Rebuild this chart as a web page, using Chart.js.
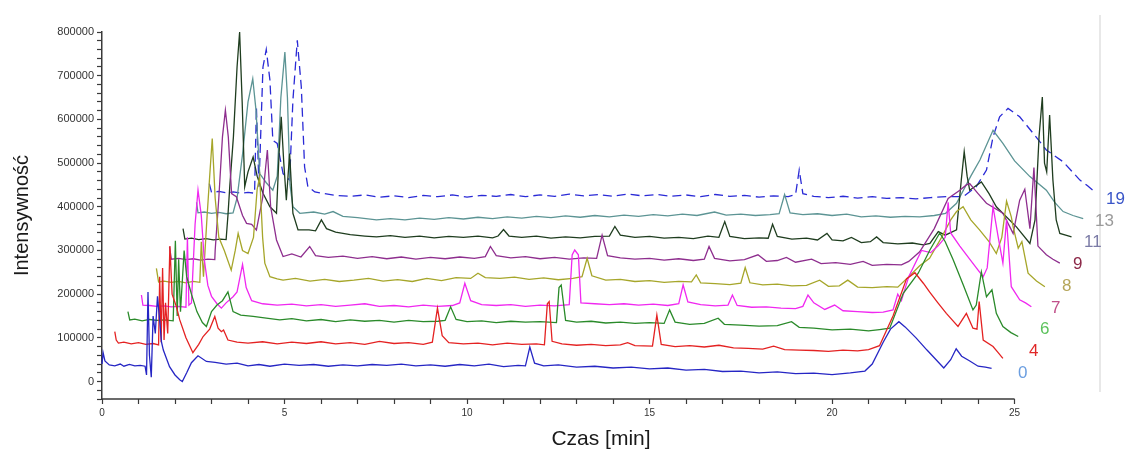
<!DOCTYPE html>
<html lang="pl">
<head>
<meta charset="utf-8">
<title>Chromatogramy</title>
<script src="https://cdn.jsdelivr.net/npm/chart.js@4.4.1/dist/chart.umd.min.js"></script>
<style>
  html, body { margin: 0; padding: 0; background: #fff; }
  #chart { display: block; }
</style>
</head>
<body>
<canvas id="chart" width="1125" height="452"></canvas>
<script>
// Chromatogram waterfall - time [min] vs intensity, one trace per sample

const runNames = ['0', '4', '6', '7', '8', '9', '11', '13', '19'];

const run0 = [
  [0, 40000], [0.03, 66000], [0.08, 47000], [0.2, 38000], [0.35, 36000], [0.5, 40000], [0.6, 35000],
  [0.75, 39000], [0.9, 36000], [1.05, 37000], [1.18, 35000], [1.22, 15000], [1.26, 205000], [1.3, 60000],
  [1.35, 10000], [1.4, 150000], [1.46, 110000], [1.52, 195000], [1.58, 140000], [1.63, 90000], [1.68, 72000],
  [1.85, 34000], [2.0, 15000], [2.13, 4000], [2.2, 0], [2.32, 20000], [2.45, 43000], [2.63, 59000],
  [2.86, 46000], [3.1, 44000], [3.4, 40000], [3.7, 42000], [4.0, 36000], [4.3, 39000], [4.6, 35000],
  [5.0, 40000], [5.4, 37000], [5.8, 39000], [6.2, 35000], [6.6, 38000], [7.0, 36000], [7.4, 39000],
  [7.8, 37000], [8.2, 40000], [8.6, 36000], [9.0, 38000], [9.4, 35000], [9.8, 39000], [10.2, 36000],
  [10.6, 40000], [11.0, 34000], [11.4, 37000], [11.6, 36000], [11.72, 79000], [11.85, 42000], [12.1, 36000],
  [12.5, 38000], [13.0, 33000], [13.5, 35000], [14.0, 31000], [14.5, 33000], [15.0, 29000], [15.5, 31000],
  [16.0, 26000], [16.5, 28000], [17.0, 23000], [17.5, 24000], [18.0, 20000], [18.5, 22000], [19.0, 18000],
  [19.5, 19000], [20.0, 16000], [20.5, 20000], [20.9, 24000], [21.1, 40000], [21.4, 90000], [21.6, 120000],
  [21.83, 137000], [22.0, 125000], [22.3, 100000], [22.6, 72000], [22.85, 50000], [23.06, 31000],
  [23.25, 50000], [23.4, 75000], [23.55, 58000], [23.75, 48000], [24.0, 35000], [24.2, 33000], [24.37, 30000]
];

const run4 = [
  [0.35, 114000], [0.39, 95000], [0.45, 88000], [0.6, 90000], [0.8, 86000], [1.0, 89000], [1.2, 85000],
  [1.4, 87000], [1.55, 84000], [1.58, 240000], [1.62, 90000], [1.66, 260000], [1.7, 95000], [1.74, 180000],
  [1.8, 110000], [1.86, 310000], [1.92, 200000], [2.04, 171000], [2.13, 141000], [2.3, 100000], [2.49, 66000],
  [2.65, 85000], [2.77, 103000], [2.95, 120000], [3.09, 149000], [3.18, 122000], [3.27, 114000], [3.33, 118000],
  [3.45, 95000], [3.7, 90000], [4.0, 88000], [4.4, 91000], [4.8, 86000], [5.2, 90000], [5.6, 87000],
  [6.0, 91000], [6.4, 86000], [6.8, 89000], [7.2, 85000], [7.6, 92000], [8.0, 87000], [8.4, 89000],
  [8.8, 85000], [9.05, 90000], [9.19, 168000], [9.32, 105000], [9.5, 89000], [9.9, 86000], [10.3, 88000],
  [10.7, 84000], [11.1, 88000], [11.5, 85000], [11.9, 86000], [12.12, 84000], [12.2, 178000], [12.25, 183000],
  [12.33, 92000], [12.6, 86000], [13.0, 83000], [13.4, 85000], [13.8, 82000], [14.2, 84000], [14.4, 89000],
  [14.6, 82000], [15.08, 81000], [15.2, 152000], [15.32, 85000], [15.7, 80000], [16.1, 82000], [16.5, 79000],
  [16.9, 83000], [17.3, 77000], [17.7, 76000], [18.1, 74000], [18.4, 81000], [18.7, 73000], [19.1, 72000],
  [19.5, 71000], [19.9, 69000], [20.3, 72000], [20.7, 70000], [21.0, 73000], [21.3, 82000], [21.67, 150000],
  [22.04, 235000], [22.27, 249000], [22.5, 225000], [22.67, 205000], [22.9, 180000], [23.13, 156000],
  [23.45, 126000], [23.68, 156000], [23.86, 122000], [23.97, 120000], [24.03, 183000], [24.14, 95000],
  [24.41, 80000], [24.55, 66000], [24.68, 53000]
];

const run6 = [
  [0.71, 160000], [0.76, 141000], [0.9, 143000], [1.1, 139000], [1.3, 142000], [1.5, 140000], [1.7, 141000],
  [1.95, 139000], [2.01, 322000], [2.06, 150000], [2.1, 280000], [2.15, 160000], [2.25, 300000], [2.32, 240000],
  [2.45, 200000], [2.6, 160000], [2.75, 135000], [2.86, 126000], [3.0, 160000], [3.15, 175000], [3.3, 185000],
  [3.45, 205000], [3.59, 160000], [3.8, 152000], [4.14, 149000], [4.5, 145000], [4.87, 141000], [5.2, 144000],
  [5.6, 139000], [6.0, 142000], [6.4, 137000], [6.8, 141000], [7.2, 138000], [7.6, 140000], [8.0, 136000],
  [8.4, 140000], [8.8, 137000], [9.2, 138000], [9.4, 140000], [9.55, 171000], [9.7, 142000], [10.0, 137000],
  [10.4, 139000], [10.8, 135000], [11.2, 138000], [11.6, 136000], [12.0, 137000], [12.45, 135000],
  [12.52, 215000], [12.58, 221000], [12.7, 140000], [13.0, 136000], [13.4, 138000], [13.8, 134000],
  [14.2, 136000], [14.6, 133000], [15.0, 135000], [15.4, 133000], [15.55, 164000], [15.7, 136000],
  [16.1, 131000], [16.5, 133000], [16.88, 145000], [17.05, 131000], [17.5, 129000], [18.0, 127000],
  [18.5, 128000], [18.89, 137000], [19.1, 124000], [19.5, 122000], [20.0, 118000], [20.5, 120000],
  [21.0, 116000], [21.3, 119000], [21.58, 122000], [21.95, 202000], [22.36, 248000], [22.68, 301000],
  [22.95, 340000], [23.1, 320000], [23.32, 278000], [23.6, 220000], [23.86, 164000], [23.95, 175000],
  [24.09, 251000], [24.23, 194000], [24.38, 210000], [24.5, 156000], [24.68, 126000], [24.9, 112000], [25.1, 103000]
];

const run7 = [
  [1.08, 198000], [1.12, 175000], [1.3, 174000], [1.5, 172000], [1.7, 173000], [1.9, 171000], [2.1, 172000],
  [2.3, 170000], [2.34, 330000], [2.38, 175000], [2.45, 180000], [2.55, 360000], [2.63, 438000], [2.72, 380000],
  [2.8, 280000], [2.9, 220000], [3.0, 195000], [3.15, 178000], [3.27, 168000], [3.4, 180000], [3.59, 194000],
  [3.7, 205000], [3.85, 268000], [3.95, 215000], [4.1, 185000], [4.4, 178000], [4.8, 175000], [5.2, 177000],
  [5.6, 173000], [6.0, 176000], [6.4, 172000], [6.8, 175000], [7.2, 178000], [7.6, 172000], [8.0, 174000],
  [8.4, 171000], [8.8, 175000], [9.2, 172000], [9.6, 174000], [9.8, 180000], [9.94, 225000], [10.1, 185000],
  [10.4, 176000], [10.8, 174000], [11.2, 176000], [11.6, 172000], [12.0, 175000], [12.4, 173000],
  [12.8, 176000], [12.88, 290000], [12.95, 301000], [13.05, 290000], [13.12, 180000], [13.5, 178000],
  [13.9, 176000], [14.3, 178000], [14.7, 175000], [15.1, 177000], [15.5, 174000], [15.8, 178000],
  [15.92, 221000], [16.05, 182000], [16.4, 176000], [16.8, 173000], [17.15, 175000], [17.27, 198000],
  [17.4, 174000], [17.8, 170000], [18.2, 171000], [18.6, 168000], [19.0, 167000], [19.2, 172000],
  [19.34, 198000], [19.5, 180000], [19.8, 165000], [20.07, 175000], [20.3, 162000], [20.7, 160000],
  [21.1, 158000], [21.4, 159000], [21.67, 164000], [21.8, 200000], [21.9, 185000], [22.1, 240000],
  [22.45, 300000], [22.7, 295000], [22.9, 310000], [23.1, 330000], [23.18, 410000], [23.25, 340000],
  [23.5, 310000], [23.77, 280000], [24.0, 255000], [24.14, 240000], [24.25, 260000], [24.41, 400000],
  [24.55, 331000], [24.68, 271000], [24.78, 370000], [24.91, 217000], [25.14, 187000], [25.3, 180000], [25.46, 171000]
];

const run8 = [
  [1.49, 259000], [1.55, 228000], [1.7, 230000], [1.9, 227000], [2.1, 229000], [2.3, 226000], [2.5, 229000],
  [2.68, 227000], [2.72, 320000], [2.78, 240000], [2.88, 380000], [2.95, 470000], [3.02, 556000], [3.1, 420000],
  [3.2, 330000], [3.35, 300000], [3.54, 255000], [3.65, 300000], [3.73, 339000], [3.85, 300000], [4.0, 293000],
  [4.15, 330000], [4.25, 440000], [4.32, 469000], [4.4, 330000], [4.46, 271000], [4.6, 240000], [4.8, 235000],
  [4.96, 232000], [5.3, 236000], [5.7, 230000], [6.1, 234000], [6.5, 229000], [6.9, 232000], [7.3, 236000],
  [7.7, 230000], [8.1, 233000], [8.5, 229000], [8.9, 236000], [9.3, 231000], [9.7, 238000], [10.1, 236000],
  [10.3, 248000], [10.5, 238000], [10.9, 236000], [11.3, 239000], [11.7, 234000], [12.1, 237000],
  [12.5, 233000], [12.9, 236000], [13.15, 240000], [13.29, 282000], [13.42, 242000], [13.8, 232000],
  [14.2, 234000], [14.6, 229000], [15.0, 231000], [15.4, 227000], [15.8, 229000], [16.15, 228000],
  [16.28, 244000], [16.4, 226000], [16.8, 224000], [17.2, 222000], [17.5, 225000], [17.62, 261000],
  [17.75, 226000], [18.1, 221000], [18.5, 223000], [18.9, 219000], [19.3, 220000], [19.66, 232000],
  [19.9, 218000], [20.2, 219000], [20.43, 232000], [20.7, 216000], [21.1, 215000], [21.5, 217000],
  [21.8, 216000], [22.1, 240000], [22.4, 265000], [22.67, 282000], [23.0, 330000], [23.25, 370000],
  [23.41, 389000], [23.59, 400000], [23.8, 370000], [24.04, 347000], [24.3, 320000], [24.5, 293000],
  [24.65, 330000], [24.78, 413000], [24.91, 377000], [24.96, 354000], [25.1, 305000], [25.2, 320000],
  [25.37, 248000], [25.6, 230000], [25.83, 217000]
];

const run9 = [
  [1.85, 308000], [1.9, 280000], [2.1, 282000], [2.3, 279000], [2.5, 281000], [2.7, 278000], [2.9, 280000],
  [3.09, 279000], [3.1, 300000], [3.2, 420000], [3.3, 560000], [3.38, 621000], [3.46, 560000], [3.55, 430000],
  [3.68, 423000], [3.85, 380000], [3.96, 362000], [4.1, 360000], [4.23, 347000], [4.4, 420000], [4.53, 530000],
  [4.62, 400000], [4.78, 324000], [4.96, 286000], [5.2, 292000], [5.45, 285000], [5.69, 309000], [5.85, 288000],
  [6.2, 284000], [6.6, 287000], [7.0, 282000], [7.4, 286000], [7.8, 281000], [8.2, 285000], [8.6, 280000],
  [9.0, 284000], [9.4, 281000], [9.8, 285000], [10.2, 282000], [10.5, 286000], [10.64, 309000], [10.8, 288000],
  [11.2, 283000], [11.6, 286000], [12.0, 281000], [12.4, 284000], [12.8, 280000], [13.2, 283000],
  [13.55, 282000], [13.7, 335000], [13.85, 288000], [14.2, 283000], [14.6, 280000], [15.0, 282000],
  [15.4, 278000], [15.8, 281000], [16.2, 277000], [16.5, 280000], [16.63, 309000], [16.78, 282000],
  [17.2, 276000], [17.6, 279000], [17.97, 290000], [18.2, 275000], [18.5, 277000], [18.75, 284000],
  [19.0, 273000], [19.44, 280000], [19.7, 270000], [20.1, 272000], [20.5, 268000], [20.85, 275000],
  [21.1, 266000], [21.5, 268000], [21.9, 267000], [22.1, 275000], [22.4, 297000], [22.8, 350000],
  [23.18, 419000], [23.5, 438000], [23.68, 450000], [23.77, 453000], [24.0, 430000], [24.23, 408000],
  [24.68, 385000], [24.96, 339000], [25.14, 415000], [25.28, 440000], [25.42, 350000], [25.53, 490000],
  [25.64, 310000], [25.87, 290000], [26.05, 280000], [26.24, 271000]
];

const run11 = [
  [2.22, 350000], [2.27, 326000], [2.45, 328000], [2.65, 325000], [2.85, 327000], [3.05, 324000], [3.25, 326000],
  [3.4, 325000], [3.45, 380000], [3.5, 446000], [3.6, 560000], [3.7, 720000], [3.77, 800000], [3.84, 640000],
  [3.91, 446000], [4.0, 480000], [4.14, 514000], [4.25, 470000], [4.41, 431000], [4.6, 400000], [4.78, 385000],
  [4.85, 520000], [4.91, 606000], [4.98, 500000], [5.05, 415000], [5.14, 522000], [5.23, 385000],
  [5.37, 347000], [5.67, 347000], [5.85, 345000], [6.01, 370000], [6.15, 350000], [6.4, 342000],
  [6.8, 336000], [7.2, 333000], [7.52, 331000], [7.9, 334000], [8.3, 330000], [8.7, 333000], [9.1, 329000],
  [9.5, 332000], [9.9, 330000], [10.3, 333000], [10.7, 329000], [10.85, 333000], [11.0, 348000],
  [11.15, 333000], [11.5, 330000], [11.9, 333000], [12.3, 328000], [12.7, 331000], [13.1, 329000],
  [13.5, 332000], [13.9, 333000], [14.05, 355000], [14.2, 335000], [14.6, 330000], [15.0, 332000],
  [15.4, 328000], [15.8, 330000], [16.2, 327000], [16.6, 333000], [16.9, 330000], [17.06, 366000],
  [17.2, 332000], [17.6, 327000], [18.0, 329000], [18.25, 328000], [18.37, 360000], [18.5, 332000],
  [18.9, 326000], [19.3, 328000], [19.6, 324000], [19.86, 339000], [20.0, 324000], [20.3, 322000],
  [20.53, 330000], [20.8, 318000], [21.05, 320000], [21.22, 331000], [21.4, 318000], [21.8, 315000],
  [22.2, 317000], [22.5, 313000], [22.68, 316000], [22.91, 343000], [23.1, 335000], [23.41, 347000],
  [23.54, 461000], [23.62, 526000], [23.7, 470000], [23.77, 438000], [24.09, 457000], [24.3, 430000],
  [24.5, 400000], [25.05, 354000], [25.42, 316000], [25.56, 370000], [25.67, 560000], [25.76, 651000],
  [25.82, 500000], [25.88, 480000], [25.96, 610000], [26.05, 461000], [26.14, 370000], [26.24, 339000],
  [26.4, 335000], [26.56, 331000]
];

const run13 = [
  [2.59, 410000], [2.63, 386000], [2.8, 388000], [3.0, 385000], [3.2, 387000], [3.4, 384000], [3.59, 386000],
  [3.7, 420000], [3.85, 520000], [4.0, 640000], [4.13, 693000], [4.22, 620000], [4.32, 476000], [4.5, 455000],
  [4.68, 438000], [4.8, 470000], [4.9, 650000], [5.01, 754000], [5.08, 650000], [5.15, 450000], [5.23, 400000],
  [5.42, 385000], [5.8, 388000], [6.1, 383000], [6.33, 389000], [6.6, 378000], [7.0, 375000], [7.52, 370000],
  [7.9, 373000], [8.3, 370000], [8.7, 374000], [9.1, 371000], [9.5, 375000], [9.9, 372000], [10.3, 376000],
  [10.7, 373000], [11.1, 377000], [11.5, 374000], [11.9, 378000], [12.3, 375000], [12.7, 379000],
  [13.1, 376000], [13.5, 380000], [13.9, 377000], [14.3, 381000], [14.7, 378000], [15.1, 382000],
  [15.5, 379000], [15.9, 383000], [16.3, 380000], [16.78, 388000], [17.1, 381000], [17.5, 383000],
  [17.9, 380000], [18.3, 382000], [18.55, 384000], [18.7, 428000], [18.85, 386000], [19.2, 382000],
  [19.6, 384000], [20.0, 380000], [20.4, 383000], [20.8, 377000], [21.2, 379000], [21.6, 376000],
  [22.0, 378000], [22.4, 377000], [22.8, 380000], [23.11, 385000], [23.41, 408000], [23.8, 470000],
  [24.05, 507000], [24.41, 575000], [24.68, 545000], [25.0, 505000], [25.42, 469000], [25.87, 438000],
  [26.1, 410000], [26.33, 389000], [26.6, 380000], [26.88, 373000]
];

const run19 = [
  [2.94, 453000], [3.0, 433000], [3.2, 435000], [3.4, 432000], [3.6, 434000], [3.8, 431000], [4.0, 433000],
  [4.18, 431000], [4.23, 628000], [4.3, 446000], [4.41, 720000], [4.5, 760000], [4.6, 690000], [4.68, 552000],
  [4.8, 545000], [4.96, 476000], [5.14, 461000], [5.23, 644000], [5.35, 781000], [5.46, 674000],
  [5.55, 491000], [5.64, 446000], [5.83, 434000], [6.1, 430000], [6.4, 426000], [6.8, 424000], [7.2, 427000],
  [7.6, 422000], [8.0, 425000], [8.4, 421000], [8.8, 426000], [9.2, 423000], [9.6, 427000], [10.0, 422000],
  [10.4, 426000], [10.8, 424000], [11.2, 428000], [11.6, 423000], [12.0, 427000], [12.4, 424000],
  [12.8, 429000], [13.2, 425000], [13.6, 428000], [14.0, 424000], [14.4, 429000], [14.8, 425000],
  [15.2, 428000], [15.6, 424000], [16.0, 427000], [16.4, 423000], [16.8, 428000], [17.2, 424000],
  [17.6, 426000], [18.0, 422000], [18.4, 425000], [18.8, 423000], [19.0, 428000], [19.1, 484000],
  [19.2, 430000], [19.5, 424000], [19.9, 421000], [20.3, 424000], [20.7, 420000], [21.1, 423000],
  [21.5, 419000], [21.9, 421000], [22.3, 418000], [22.7, 421000], [23.13, 423000], [23.59, 423000],
  [23.95, 446000], [24.23, 484000], [24.41, 560000], [24.59, 606000], [24.82, 625000], [25.14, 606000],
  [25.51, 568000], [25.87, 530000], [26.33, 503000], [26.79, 461000], [27.0, 448000], [27.2, 434000]
];

const runData = [run0, run4, run6, run7, run8, run9, run11, run13, run19];

const xLabelValues = [0, 5, 10, 15, 20, 25];
const yLabelValues = [0, 100000, 200000, 300000, 400000, 500000, 600000, 700000, 800000];

const lineColors = ['#2626c4', '#e42222', '#2a8a2a', '#f028f0', '#a6a62a', '#8e2e8e', '#1f3d1f', '#5c9494', '#2a2ad6'];
const nameColors = ['#6b9ee0', '#e02828', '#5cc25c', '#c0508a', '#b5a65a', '#8c2848', '#7b7ba6', '#9a9a9a', '#3a56c8'];

const FONT = "'Liberation Sans', Arial, sans-serif";
const AXIS_COLOR = '#3a3a3a';

// axis line only runs to 25 min, frame line on the right, sample numbers
const decorPlugin = {
  id: 'decor',
  beforeDatasetsDraw(chart) {
    const { ctx, chartArea, scales } = chart;
    ctx.save();
    ctx.strokeStyle = '#e8e8e8';
    ctx.lineWidth = 2;
    ctx.beginPath();
    ctx.moveTo(chartArea.right, 15);
    ctx.lineTo(chartArea.right, 392);
    ctx.stroke();

    ctx.strokeStyle = AXIS_COLOR;
    ctx.lineWidth = 1.5;
    ctx.beginPath();
    ctx.moveTo(scales.x.getPixelForValue(0), chartArea.bottom);
    ctx.lineTo(scales.x.getPixelForValue(25), chartArea.bottom);
    ctx.stroke();
    ctx.restore();
  },
  afterDraw(chart) {
    const { ctx, chartArea } = chart;
    ctx.save();
    ctx.font = '17px ' + FONT;
    ctx.textBaseline = 'middle';
    ctx.textAlign = 'left';
    runNames.forEach((name, i) => {
      ctx.fillStyle = nameColors[i];
      ctx.fillText(name, chartArea.right - 82 + 11 * i, chartArea.bottom - 26 - 21.7 * i);
    });
    ctx.restore();
  }
};

const datasets = runData.map((points, i) => ({
  label: runNames[i],
  data: points,
  borderColor: lineColors[i],
  borderWidth: 1.3,
  borderDash: runNames[i] === '19' ? [9, 5] : [],
  pointRadius: 0,
  tension: 0,
  fill: false,
  clip: false
}));

new Chart(document.getElementById('chart'), {
  type: 'line',
  data: { datasets },
  plugins: [decorPlugin],
  options: {
    responsive: false,
    animation: false,
    devicePixelRatio: 1,
    layout: { padding: { left: 0, right: 25, top: 32, bottom: 0 } },
    plugins: {
      legend: { display: false },
      tooltip: { enabled: false }
    },
    scales: {
      x: {
        type: 'linear',
        min: 0,
        max: 27.34,
        afterBuildTicks: (scale) => {
          const ticks = [];
          for (let v = 0; v <= 25; v++) ticks.push({ value: v });
          scale.ticks = ticks;
        },
        afterFit: (scale) => { scale.height = 53; },
        border: { display: false },
        grid: { drawOnChartArea: false, drawTicks: true, tickLength: 5, tickColor: AXIS_COLOR, tickWidth: 1.2 },
        ticks: {
          autoSkip: false,
          maxRotation: 0,
          padding: 3,
          color: '#333',
          font: { family: FONT, size: 10 },
          callback: (v) => xLabelValues.includes(v) ? String(v) : ''
        },
        title: {
          display: true,
          text: 'Czas [min]',
          color: '#1a1a1a',
          font: { family: FONT, size: 21 },
          padding: { top: 0, bottom: 0 }
        }
      },
      y: {
        type: 'linear',
        min: -40000,
        max: 800000,
        afterBuildTicks: (scale) => {
          const ticks = [];
          for (let v = -40000; v <= 800000; v += 20000) ticks.push({ value: v });
          scale.ticks = ticks;
        },
        afterFit: (scale) => { scale.width = 102; },
        border: { display: true, color: AXIS_COLOR, width: 1.5 },
        grid: { drawOnChartArea: false, drawTicks: true, tickLength: 5, tickColor: AXIS_COLOR, tickWidth: 1.2 },
        ticks: {
          autoSkip: false,
          padding: 3,
          color: '#333',
          font: { family: FONT, size: 11 },
          callback: (v) => yLabelValues.includes(v) ? String(v) : ''
        },
        title: {
          display: true,
          text: 'Intensywność',
          color: '#1a1a1a',
          font: { family: FONT, size: 20 },
          padding: { top: 10, bottom: 0 }
        }
      }
    }
  }
});
</script>
</body>
</html>
